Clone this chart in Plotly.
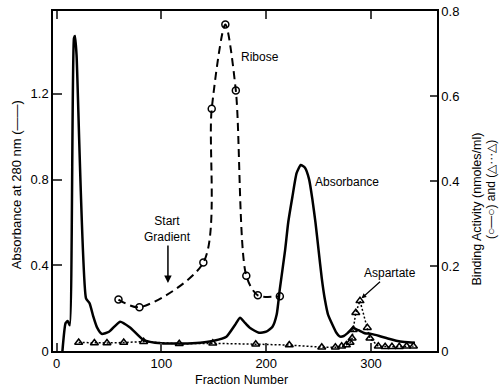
import plotly.graph_objects as go

# ---- data ----
abs_x = [5.5, 8.5, 10.5, 12.5, 16.5, 17.5, 19, 28, 31.5, 35, 38.5, 43, 50, 60.5, 70, 83, 100, 120, 137, 150,
         162, 170, 175, 180, 185, 193, 200, 206, 210, 213, 218, 221, 225, 229, 233, 237, 241, 244, 247, 250,
         253, 256, 259, 263, 267, 270, 274, 278, 283, 288, 294, 300, 308, 316, 324, 332, 342]
abs_y = [0, 0.13, 0.14, 0.12, 1.46, 1.47, 1.38, 0.246, 0.222, 0.16, 0.11, 0.08, 0.09, 0.137, 0.11, 0.051, 0.036, 0.035, 0.039, 0.048,
         0.067, 0.12, 0.155, 0.13, 0.106, 0.085, 0.09, 0.113, 0.17, 0.29, 0.47, 0.6, 0.72, 0.83, 0.868, 0.855, 0.8, 0.71, 0.6, 0.47,
         0.34, 0.24, 0.17, 0.125, 0.085, 0.068, 0.07, 0.085, 0.107, 0.097, 0.083, 0.08, 0.07, 0.058, 0.048, 0.042, 0.039]

rib_x = [59, 79, 140, 148, 161, 171, 181, 192, 213]
rib_y = [0.121, 0.103, 0.208, 0.57, 0.768, 0.613, 0.177, 0.131, 0.129]

asp_x = [21, 36, 48, 64, 83, 117, 149, 190, 222, 253, 266, 272, 276.5, 280, 282, 283, 285.5, 289.5,
         296.5, 299, 307, 313.5, 320, 327, 334, 340.5]
asp_y = [0.02, 0.019, 0.019, 0.02, 0.022, 0.017, 0.018, 0.016, 0.014, 0.009, 0.009, 0.011, 0.014, 0.02, 0.03, 0.05, 0.09, 0.118,
         0.055, 0.03, 0.011, 0.01, 0.01, 0.01, 0.011, 0.011]

left_ticks = [0, 0.4, 0.8, 1.2]
left_labels = ["0", "0.4", "0.8", "1.2"]
right_ticks = [0, 0.2, 0.4, 0.6, 0.8]
right_labels = ["0", "0.2", "0.4", "0.6", "0.8"]
x_ticks = [0, 100, 200, 300]

FONT = "Liberation Sans, Arial, sans-serif"

fig = go.Figure()
fig.add_trace(go.Scatter(x=abs_x, y=abs_y, mode="lines",
                         line=dict(color="black", width=2.5, shape="spline", smoothing=0.5),
                         yaxis="y", showlegend=False))
fig.add_trace(go.Scatter(x=rib_x, y=rib_y, mode="lines+markers",
                         line=dict(color="black", width=2, dash="8px,5px", shape="spline", smoothing=0.8),
                         marker=dict(symbol="circle-open", size=7, color="black", line=dict(width=1.5)),
                         yaxis="y2", showlegend=False))
fig.add_trace(go.Scatter(x=asp_x, y=asp_y, mode="lines+markers",
                         line=dict(color="black", width=1.5, dash="2px,2px"),
                         marker=dict(symbol="triangle-up-open", size=7, color="black", line=dict(width=1.5)),
                         yaxis="y2", showlegend=False))

fig.update_layout(
    width=504, height=392,
    margin=dict(l=53, r=67, t=11, b=41, autoexpand=False),
    paper_bgcolor="white", plot_bgcolor="white",
    font=dict(family=FONT, size=12, color="black"),
    xaxis=dict(range=[-3.5, 363], tickvals=x_ticks, ticks="inside", ticklen=8, tickwidth=1.5,
               showline=True, linecolor="black", linewidth=1.5, mirror="ticks", showgrid=False,
               zeroline=False, tickfont=dict(size=13), automargin=False),
    yaxis=dict(range=[0, 1.587], tickvals=left_ticks, ticktext=left_labels, ticks="inside", ticklen=9,
               tickwidth=1.5, showline=True, linecolor="black", linewidth=1.5, showgrid=False,
               zeroline=False, tickfont=dict(size=13), automargin=False),
    yaxis2=dict(range=[0, 0.8], tickvals=right_ticks, ticktext=right_labels, ticks="inside", ticklen=7,
                tickwidth=1.5, showline=True, linecolor="black", linewidth=1.5, showgrid=False,
                zeroline=False, overlaying="y", side="right", tickfont=dict(size=13), automargin=False),
)

annos = [
    dict(text="Absorbance at 280 nm (——)", xref="paper", yref="paper", x=-0.096, y=0.488,
         textangle=-90, showarrow=False, xanchor="center", yanchor="middle", font=dict(size=13)),
    dict(text="Binding Activity (nmoles/ml)", xref="paper", yref="paper", x=1.104, y=0.419,
         textangle=-90, showarrow=False, xanchor="center", yanchor="middle", font=dict(size=12.5)),
    dict(text="(○—○) and (△···△)", xref="paper", yref="paper", x=1.141, y=0.474,
         textangle=-90, showarrow=False, xanchor="center", yanchor="middle", font=dict(size=12)),
    dict(text="Fraction Number", xref="paper", yref="paper", x=0.49, y=-0.085,
         showarrow=False, xanchor="center", yanchor="middle", font=dict(size=12.5)),
    dict(text="Ribose", xref="x", yref="y", x=194, y=1.372, showarrow=False),
    dict(text="Absorbance", xref="x", yref="y", x=277, y=0.789, showarrow=False, font=dict(size=12)),
    dict(text="Start<br>Gradient", xref="x", yref="y", x=106.2, y=0.317, ax=0, ay=-54,
         showarrow=True, arrowhead=2, arrowsize=1, arrowwidth=1.5, arrowcolor="black"),
    dict(text="Aspartate", xref="x", yref="y", x=291, y=0.246, ax=28, ay=-25,
         showarrow=True, arrowhead=2, arrowsize=0.8, arrowwidth=1.2, arrowcolor="black"),
]
fig.update_layout(annotations=annos)

fig.write_html("out.html", config={"displayModeBar": False},
               post_script="document.body.style.margin='0';document.body.style.overflow='hidden';")
